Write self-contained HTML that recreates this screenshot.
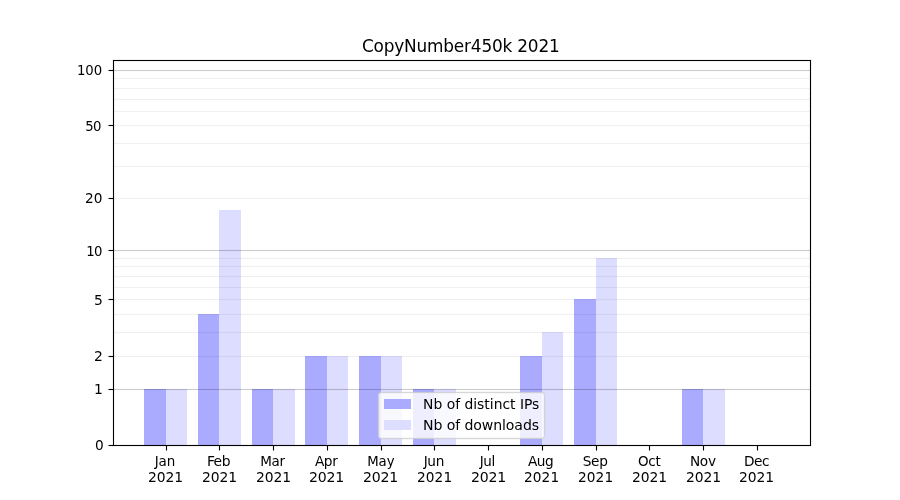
<!DOCTYPE html>
<html lang="en"><head><meta charset="utf-8"><title>CopyNumber450k 2021</title>
<style>
html,body{margin:0;padding:0;background:#fff;}
body{width:900px;height:500px;overflow:hidden;position:relative;}
svg{position:absolute;left:0;top:0;display:block;}
text{font-family:"DejaVu Sans","Liberation Sans",sans-serif;fill:#000;}
.t{font-size:16.667px;}
.l{font-size:13.889px;}
.s{shape-rendering:crispEdges;}
</style></head><body>
<svg width="900" height="500" viewBox="0 0 900 500">
<rect x="0" y="0" width="900" height="500" fill="#ffffff"/>
<g class="s">
<rect x="144" y="389" width="22" height="57" fill="#aaaaff"/>
<rect x="166" y="389" width="21" height="57" fill="#ddddff"/>
<rect x="198" y="314" width="21" height="132" fill="#aaaaff"/>
<rect x="219" y="210" width="22" height="236" fill="#ddddff"/>
<rect x="252" y="389" width="21" height="57" fill="#aaaaff"/>
<rect x="273" y="389" width="22" height="57" fill="#ddddff"/>
<rect x="305" y="356" width="22" height="90" fill="#aaaaff"/>
<rect x="327" y="356" width="21" height="90" fill="#ddddff"/>
<rect x="359" y="356" width="22" height="90" fill="#aaaaff"/>
<rect x="381" y="356" width="21" height="90" fill="#ddddff"/>
<rect x="413" y="389" width="21" height="57" fill="#aaaaff"/>
<rect x="434" y="389" width="22" height="57" fill="#ddddff"/>
<rect x="520" y="356" width="22" height="90" fill="#aaaaff"/>
<rect x="542" y="332" width="21" height="114" fill="#ddddff"/>
<rect x="574" y="299" width="22" height="147" fill="#aaaaff"/>
<rect x="596" y="258" width="21" height="188" fill="#ddddff"/>
<rect x="682" y="389" width="21" height="57" fill="#aaaaff"/>
<rect x="703" y="389" width="22" height="57" fill="#ddddff"/>
</g>
<g class="s">
<rect x="113" y="389" width="698" height="1" fill="#000" fill-opacity="0.2"/>
<rect x="113" y="388" width="698" height="1" fill="#000" fill-opacity="0.011"/><rect x="113" y="390" width="698" height="1" fill="#000" fill-opacity="0.011"/>
<rect x="113" y="250" width="698" height="1" fill="#000" fill-opacity="0.2"/>
<rect x="113" y="249" width="698" height="1" fill="#000" fill-opacity="0.011"/><rect x="113" y="251" width="698" height="1" fill="#000" fill-opacity="0.011"/>
<rect x="113" y="70" width="698" height="1" fill="#000" fill-opacity="0.2"/>
<rect x="113" y="69" width="698" height="1" fill="#000" fill-opacity="0.011"/><rect x="113" y="71" width="698" height="1" fill="#000" fill-opacity="0.011"/>
<rect x="113" y="356" width="698" height="1" fill="#000" fill-opacity="0.06"/>
<rect x="113" y="355" width="698" height="1" fill="#000" fill-opacity="0.0035"/><rect x="113" y="357" width="698" height="1" fill="#000" fill-opacity="0.0035"/>
<rect x="113" y="332" width="698" height="1" fill="#000" fill-opacity="0.06"/>
<rect x="113" y="331" width="698" height="1" fill="#000" fill-opacity="0.0035"/><rect x="113" y="333" width="698" height="1" fill="#000" fill-opacity="0.0035"/>
<rect x="113" y="314" width="698" height="1" fill="#000" fill-opacity="0.06"/>
<rect x="113" y="313" width="698" height="1" fill="#000" fill-opacity="0.0035"/><rect x="113" y="315" width="698" height="1" fill="#000" fill-opacity="0.0035"/>
<rect x="113" y="299" width="698" height="1" fill="#000" fill-opacity="0.06"/>
<rect x="113" y="298" width="698" height="1" fill="#000" fill-opacity="0.0035"/><rect x="113" y="300" width="698" height="1" fill="#000" fill-opacity="0.0035"/>
<rect x="113" y="287" width="698" height="1" fill="#000" fill-opacity="0.06"/>
<rect x="113" y="286" width="698" height="1" fill="#000" fill-opacity="0.0035"/><rect x="113" y="288" width="698" height="1" fill="#000" fill-opacity="0.0035"/>
<rect x="113" y="276" width="698" height="1" fill="#000" fill-opacity="0.06"/>
<rect x="113" y="275" width="698" height="1" fill="#000" fill-opacity="0.0035"/><rect x="113" y="277" width="698" height="1" fill="#000" fill-opacity="0.0035"/>
<rect x="113" y="266" width="698" height="1" fill="#000" fill-opacity="0.06"/>
<rect x="113" y="265" width="698" height="1" fill="#000" fill-opacity="0.0035"/><rect x="113" y="267" width="698" height="1" fill="#000" fill-opacity="0.0035"/>
<rect x="113" y="258" width="698" height="1" fill="#000" fill-opacity="0.06"/>
<rect x="113" y="257" width="698" height="1" fill="#000" fill-opacity="0.0035"/><rect x="113" y="259" width="698" height="1" fill="#000" fill-opacity="0.0035"/>
<rect x="113" y="198" width="698" height="1" fill="#000" fill-opacity="0.06"/>
<rect x="113" y="197" width="698" height="1" fill="#000" fill-opacity="0.0035"/><rect x="113" y="199" width="698" height="1" fill="#000" fill-opacity="0.0035"/>
<rect x="113" y="166" width="698" height="1" fill="#000" fill-opacity="0.06"/>
<rect x="113" y="165" width="698" height="1" fill="#000" fill-opacity="0.0035"/><rect x="113" y="167" width="698" height="1" fill="#000" fill-opacity="0.0035"/>
<rect x="113" y="143" width="698" height="1" fill="#000" fill-opacity="0.06"/>
<rect x="113" y="142" width="698" height="1" fill="#000" fill-opacity="0.0035"/><rect x="113" y="144" width="698" height="1" fill="#000" fill-opacity="0.0035"/>
<rect x="113" y="125" width="698" height="1" fill="#000" fill-opacity="0.06"/>
<rect x="113" y="124" width="698" height="1" fill="#000" fill-opacity="0.0035"/><rect x="113" y="126" width="698" height="1" fill="#000" fill-opacity="0.0035"/>
<rect x="113" y="111" width="698" height="1" fill="#000" fill-opacity="0.06"/>
<rect x="113" y="110" width="698" height="1" fill="#000" fill-opacity="0.0035"/><rect x="113" y="112" width="698" height="1" fill="#000" fill-opacity="0.0035"/>
<rect x="113" y="99" width="698" height="1" fill="#000" fill-opacity="0.06"/>
<rect x="113" y="98" width="698" height="1" fill="#000" fill-opacity="0.0035"/><rect x="113" y="100" width="698" height="1" fill="#000" fill-opacity="0.0035"/>
<rect x="113" y="88" width="698" height="1" fill="#000" fill-opacity="0.06"/>
<rect x="113" y="87" width="698" height="1" fill="#000" fill-opacity="0.0035"/><rect x="113" y="89" width="698" height="1" fill="#000" fill-opacity="0.0035"/>
<rect x="113" y="78" width="698" height="1" fill="#000" fill-opacity="0.06"/>
<rect x="113" y="77" width="698" height="1" fill="#000" fill-opacity="0.0035"/><rect x="113" y="79" width="698" height="1" fill="#000" fill-opacity="0.0035"/>
</g>
<g class="s" fill="none">
<rect x="112.5" y="59.5" width="699" height="387" stroke="#000" stroke-opacity="0.055" stroke-width="1"/>
<rect x="114.5" y="61.5" width="695" height="383" stroke="#000" stroke-opacity="0.055" stroke-width="1"/>
<rect x="113.5" y="60.5" width="697" height="385" stroke="#000" stroke-width="1"/>
</g>
<g class="s" fill="#000">
<rect x="166" y="446" width="1" height="4"/><rect x="166" y="450" width="1" height="1" fill-opacity="0.5"/>
<rect x="165" y="446" width="3" height="4" fill-opacity="0.055"/>
<rect x="219" y="446" width="1" height="4"/><rect x="219" y="450" width="1" height="1" fill-opacity="0.5"/>
<rect x="218" y="446" width="3" height="4" fill-opacity="0.055"/>
<rect x="273" y="446" width="1" height="4"/><rect x="273" y="450" width="1" height="1" fill-opacity="0.5"/>
<rect x="272" y="446" width="3" height="4" fill-opacity="0.055"/>
<rect x="327" y="446" width="1" height="4"/><rect x="327" y="450" width="1" height="1" fill-opacity="0.5"/>
<rect x="326" y="446" width="3" height="4" fill-opacity="0.055"/>
<rect x="381" y="446" width="1" height="4"/><rect x="381" y="450" width="1" height="1" fill-opacity="0.5"/>
<rect x="380" y="446" width="3" height="4" fill-opacity="0.055"/>
<rect x="434" y="446" width="1" height="4"/><rect x="434" y="450" width="1" height="1" fill-opacity="0.5"/>
<rect x="433" y="446" width="3" height="4" fill-opacity="0.055"/>
<rect x="488" y="446" width="1" height="4"/><rect x="488" y="450" width="1" height="1" fill-opacity="0.5"/>
<rect x="487" y="446" width="3" height="4" fill-opacity="0.055"/>
<rect x="542" y="446" width="1" height="4"/><rect x="542" y="450" width="1" height="1" fill-opacity="0.5"/>
<rect x="541" y="446" width="3" height="4" fill-opacity="0.055"/>
<rect x="596" y="446" width="1" height="4"/><rect x="596" y="450" width="1" height="1" fill-opacity="0.5"/>
<rect x="595" y="446" width="3" height="4" fill-opacity="0.055"/>
<rect x="649" y="446" width="1" height="4"/><rect x="649" y="450" width="1" height="1" fill-opacity="0.5"/>
<rect x="648" y="446" width="3" height="4" fill-opacity="0.055"/>
<rect x="703" y="446" width="1" height="4"/><rect x="703" y="450" width="1" height="1" fill-opacity="0.5"/>
<rect x="702" y="446" width="3" height="4" fill-opacity="0.055"/>
<rect x="757" y="446" width="1" height="4"/><rect x="757" y="450" width="1" height="1" fill-opacity="0.5"/>
<rect x="756" y="446" width="3" height="4" fill-opacity="0.055"/>
<rect x="109" y="445" width="4" height="1"/><rect x="108" y="445" width="1" height="1" fill-opacity="0.5"/>
<rect x="109" y="444" width="4" height="3" fill-opacity="0.055"/>
<rect x="109" y="389" width="4" height="1"/><rect x="108" y="389" width="1" height="1" fill-opacity="0.5"/>
<rect x="109" y="388" width="4" height="3" fill-opacity="0.055"/>
<rect x="109" y="356" width="4" height="1"/><rect x="108" y="356" width="1" height="1" fill-opacity="0.5"/>
<rect x="109" y="355" width="4" height="3" fill-opacity="0.055"/>
<rect x="109" y="299" width="4" height="1"/><rect x="108" y="299" width="1" height="1" fill-opacity="0.5"/>
<rect x="109" y="298" width="4" height="3" fill-opacity="0.055"/>
<rect x="109" y="250" width="4" height="1"/><rect x="108" y="250" width="1" height="1" fill-opacity="0.5"/>
<rect x="109" y="249" width="4" height="3" fill-opacity="0.055"/>
<rect x="109" y="198" width="4" height="1"/><rect x="108" y="198" width="1" height="1" fill-opacity="0.5"/>
<rect x="109" y="197" width="4" height="3" fill-opacity="0.055"/>
<rect x="109" y="125" width="4" height="1"/><rect x="108" y="125" width="1" height="1" fill-opacity="0.5"/>
<rect x="109" y="124" width="4" height="3" fill-opacity="0.055"/>
<rect x="109" y="70" width="4" height="1"/><rect x="108" y="70" width="1" height="1" fill-opacity="0.5"/>
<rect x="109" y="69" width="4" height="3" fill-opacity="0.055"/>
</g>
<g>
<rect x="377.5" y="391.5" width="168" height="48" rx="3.5" ry="3.5" fill="none" stroke="#ccc" stroke-opacity="0.13" stroke-width="1"/>
<rect x="378.5" y="392.5" width="166" height="46" rx="2.8" ry="2.8" fill="#fff" fill-opacity="0.8" stroke="#ccc" stroke-opacity="0.8" stroke-width="1"/>
<rect x="379.5" y="393.5" width="164" height="44" rx="2" ry="2" fill="none" stroke="#ccc" stroke-opacity="0.13" stroke-width="1"/>
<rect class="s" x="384" y="399" width="27" height="10" fill="#aaaaff"/>
<rect class="s" x="384" y="420" width="27" height="10" fill="#ddddff"/>
<text class="l" x="423.07" y="408.50">Nb of distinct IPs</text>
<text class="l" style="letter-spacing:-0.10px;font-size:14.097px;" x="423.07" y="429.50">Nb of downloads</text>
</g>
<text class="t" style="letter-spacing:-0.20px;font-size:16.917px;" transform="translate(460.75,51.50) scale(1,1.09)" x="0" y="0" text-anchor="middle">CopyNumber450k 2021</text>
<g class="l" text-anchor="end">
<text style="letter-spacing:-0.30px;font-size:13.681px;" x="103.53" y="449.50">0</text>
<text style="letter-spacing:-0.30px;" x="102.53" y="393.50">1</text>
<text style="letter-spacing:-0.30px;" x="102.53" y="360.50">2</text>
<text style="letter-spacing:-0.30px;" x="102.53" y="304.50">5</text>
<text style="letter-spacing:-0.50px;font-size:13.264px;" x="102.03" y="255.50">10</text>
<text style="letter-spacing:-0.10px;font-size:13.681px;" x="102.28" y="202.50">20</text>
<text style="letter-spacing:-0.50px;font-size:13.264px;" x="101.03" y="130.50">50</text>
<text style="letter-spacing:-0.10px;font-size:13.264px;" x="102.03" y="74.50">100</text>
</g>
<g class="l" text-anchor="middle">
<text style="letter-spacing:-0.10px;font-size:13.472px;" x="164.95" y="465.50">Jan</text>
<text style="letter-spacing:-0.10px;" x="165.45" y="481.50">2021</text>
<text style="letter-spacing:-0.50px;" x="218.44" y="465.50">Feb</text>
<text style="letter-spacing:-0.10px;" x="219.44" y="481.50">2021</text>
<text style="letter-spacing:-0.30px;font-size:13.472px;" x="272.42" y="465.50">Mar</text>
<text style="letter-spacing:-0.10px;" x="273.42" y="481.50">2021</text>
<text style="letter-spacing:-0.40px;font-size:13.681px;" x="326.16" y="465.50">Apr</text>
<text style="letter-spacing:-0.20px;font-size:14.097px;" x="326.41" y="481.50">2021</text>
<text style="font-size:13.264px;" x="380.90" y="465.50">May</text>
<text style="letter-spacing:-0.20px;font-size:14.097px;" x="380.40" y="481.50">2021</text>
<text style="letter-spacing:-0.30px;font-size:13.681px;" x="433.88" y="465.50">Jun</text>
<text style="letter-spacing:0.10px;font-size:13.681px;" x="434.63" y="481.50">2021</text>
<text style="letter-spacing:-0.30px;font-size:13.472px;" x="487.37" y="465.50">Jul</text>
<text style="letter-spacing:-0.20px;font-size:14.097px;" x="488.62" y="481.50">2021</text>
<text style="letter-spacing:-0.50px;font-size:13.681px;" x="540.60" y="465.50">Aug</text>
<text style="letter-spacing:0.10px;font-size:13.681px;" x="541.60" y="481.50">2021</text>
<text style="letter-spacing:-0.30px;font-size:13.681px;" x="595.09" y="465.50">Sep</text>
<text style="letter-spacing:0.10px;font-size:13.681px;" x="595.59" y="481.50">2021</text>
<text style="letter-spacing:-0.20px;font-size:13.472px;" x="649.33" y="465.50">Oct</text>
<text style="letter-spacing:-0.10px;" x="649.58" y="481.50">2021</text>
<text style="letter-spacing:-0.30px;font-size:13.681px;" x="702.81" y="465.50">Nov</text>
<text style="letter-spacing:-0.10px;" x="703.56" y="481.50">2021</text>
<text style="letter-spacing:-0.50px;font-size:13.681px;" x="756.55" y="465.50">Dec</text>
<text style="letter-spacing:-0.10px;" x="756.55" y="481.50">2021</text>
</g>
</svg></body></html>
